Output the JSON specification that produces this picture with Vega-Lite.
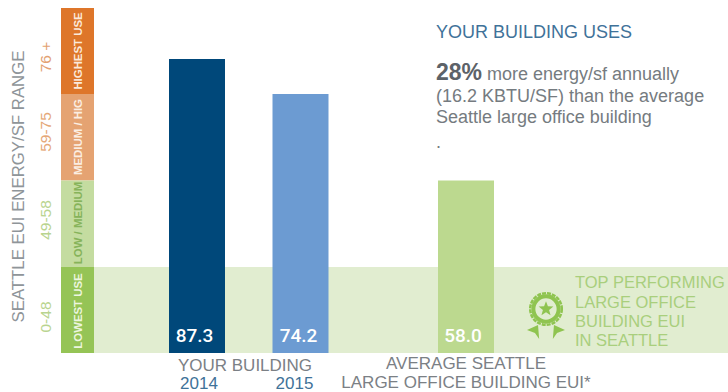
{
  "$schema": "https://vega.github.io/schema/vega-lite/v6.json",
  "width": 728,
  "height": 392,
  "autosize": {"type": "fit", "contains": "padding"},
  "padding": 0,
  "background": "white",
  "config": {"view": {"stroke": null}, "text": {"font": "Liberation Sans"}},
  "datasets": {
    "zones": [
      {"zone": "HIGHEST USE", "eui": "76 +", "rank": 1, "lo": 74.2, "hi": 112},
      {"zone": "MEDIUM / HIG", "eui": "59-75", "rank": 2, "lo": 58, "hi": 74.2},
      {"zone": "LOW / MEDIUM", "eui": "49-58", "rank": 3, "lo": 48, "hi": 58},
      {"zone": "LOWEST USE", "eui": "0-48", "rank": 4, "lo": 0, "hi": 48}
    ],
    "buildings": [
      {"slot": 1, "name": "2014", "eui": 87.3},
      {"slot": 2, "name": "2015", "eui": 74.2},
      {"slot": 3, "name": "Average", "eui": 58.0}
    ],
    "headline": [
      {"text": "YOUR BUILDING USES", "col": 1, "line": 1}
    ],
    "commentary": [
      {"text": "more energy/sf annually", "col": 2, "line": 2},
      {"text": "(16.2 KBTU/SF) than the average", "col": 1, "line": 3},
      {"text": "Seattle large office building", "col": 1, "line": 4},
      {"text": ".", "col": 1, "line": 5}
    ],
    "award": [
      {"text": "TOP PERFORMING", "col": 3, "line": 6},
      {"text": "LARGE OFFICE", "col": 3, "line": 7},
      {"text": "BUILDING EUI", "col": 3, "line": 8},
      {"text": "IN SEATTLE", "col": 3, "line": 9}
    ],
    "captions": [
      {"text": "YOUR BUILDING", "col": 1, "line": 1, "tone": "grey"},
      {"text": "2014", "col": 2, "line": 2, "tone": "blue"},
      {"text": "2015", "col": 3, "line": 2, "tone": "blue"},
      {"text": "AVERAGE SEATTLE", "col": 4, "line": 3, "tone": "grey"},
      {"text": "LARGE OFFICE BUILDING EUI*", "col": 4, "line": 4, "tone": "grey"}
    ]
  },
  "resolve": {"scale": {"x": "independent", "y": "independent", "color": "independent"}},
  "layer": [
    {
      "description": "Pale band across the plot for the lowest-use range",
      "data": {"values": [{"lo": 0, "hi": 48}]},
      "mark": {"type": "rect", "color": "#e1edd0"},
      "encoding": {
        "x": {"datum": 0, "type": "quantitative", "axis": null, "scale": {"domain": [0, 1], "range": [94, 728]}},
        "x2": {"datum": 1},
        "y": {"field": "lo", "type": "quantitative", "axis": null, "scale": {"domain": [0, 48, 58, 74.2, 87.3, 112], "range": [353, 267, 180.5, 94, 59, 8], "nice": false, "zero": false}},
        "y2": {"field": "hi"}
      }
    },
    {
      "description": "Colour-coded EUI strip at the left",
      "data": {"name": "zones"},
      "mark": {"type": "rect"},
      "encoding": {
        "x": {"datum": 0, "type": "quantitative", "axis": null, "scale": {"domain": [0, 1], "range": [61, 94]}},
        "x2": {"datum": 1},
        "y": {"field": "lo", "type": "quantitative", "axis": null, "scale": {"domain": [0, 48, 58, 74.2, 87.3, 112], "range": [353, 267, 180.5, 94, 59, 8], "nice": false, "zero": false}},
        "y2": {"field": "hi"},
        "color": {"field": "zone", "type": "nominal", "legend": null, "scale": {"domain": ["HIGHEST USE", "MEDIUM / HIG", "LOW / MEDIUM", "LOWEST USE"], "range": ["#de762a", "#e5a372", "#c4dca0", "#95c456"]}}
      }
    },
    {
      "description": "Building EUI bars",
      "data": {"name": "buildings"},
      "mark": {"type": "bar", "width": 56, "orient": "vertical"},
      "encoding": {
        "x": {"field": "slot", "type": "quantitative", "axis": null, "scale": {"domain": [1, 2, 3], "range": [197, 300.5, 466], "nice": false, "zero": false, "padding": 0}},
        "y": {"field": "eui", "type": "quantitative", "axis": null, "stack": null, "scale": {"domain": [0, 48, 58, 74.2, 87.3, 112], "range": [353, 267, 180.5, 94, 59, 8], "nice": false, "zero": false}},
        "color": {"field": "name", "type": "nominal", "legend": null, "scale": {"domain": ["2014", "2015", "Average"], "range": ["#00487a", "#6c9bd2", "#bcd98f"]}}
      }
    },
    {
      "description": "Value printed at the foot of each bar",
      "data": {"name": "buildings"},
      "mark": {"type": "text", "font": "Roboto", "color": "white", "fontSize": 19, "fontWeight": 500, "baseline": "alphabetic", "dy": -11},
      "encoding": {
        "x": {"field": "slot", "type": "quantitative", "axis": null, "scale": {"domain": [1, 2, 3], "range": [194.5, 298.5, 463], "nice": false, "zero": false}},
        "y": {"datum": 0, "type": "quantitative", "axis": null, "scale": {"domain": [0, 48, 58, 74.2, 87.3, 112], "range": [353, 267, 180.5, 94, 59, 8], "nice": false, "zero": false}},
        "text": {"field": "eui", "type": "quantitative", "format": ".1f"}
      }
    },
    {
      "description": "Use level written inside the strip",
      "data": {"name": "zones"},
      "mark": {"type": "text", "angle": 270, "fontSize": 11.4, "fontWeight": "bold", "align": "center", "baseline": "middle"},
      "encoding": {
        "x": {"datum": 0, "type": "quantitative", "axis": null, "scale": {"domain": [0, 1], "range": [79, 100]}},
        "y": {"field": "rank", "type": "quantitative", "axis": null, "scale": {"domain": [1, 2, 3, 4], "range": [51, 137, 223, 311], "nice": false, "zero": false}},
        "text": {"field": "zone"},
        "color": {"field": "zone", "type": "nominal", "legend": null, "scale": {"domain": ["HIGHEST USE", "MEDIUM / HIG", "LOW / MEDIUM", "LOWEST USE"], "range": ["#fbe9da", "#fbeee2", "#86b35a", "#ecf5df"]}}
      }
    },
    {
      "description": "EUI range beside the strip",
      "data": {"name": "zones"},
      "mark": {"type": "text", "angle": 270, "fontSize": 15.5, "align": "center", "baseline": "middle"},
      "encoding": {
        "x": {"datum": 0, "type": "quantitative", "axis": null, "scale": {"domain": [0, 1], "range": [46, 60]}},
        "y": {"field": "rank", "type": "quantitative", "axis": null, "scale": {"domain": [1, 2, 3, 4], "range": [57, 132, 220, 317], "nice": false, "zero": false}},
        "text": {"field": "eui"},
        "color": {"field": "zone", "type": "nominal", "legend": null, "scale": {"domain": ["HIGHEST USE", "MEDIUM / HIG", "LOW / MEDIUM", "LOWEST USE"], "range": ["#e3a273", "#e5a878", "#b9d48f", "#b9d48f"]}}
      }
    },
    {
      "description": "Rotated title of the range column",
      "data": {"values": [{"text": "SEATTLE EUI ENERGY/SF RANGE"}]},
      "mark": {"type": "text", "angle": 270, "fontSize": 16.8, "color": "#8f9599", "align": "center", "baseline": "middle"},
      "encoding": {
        "x": {"datum": 0, "type": "quantitative", "axis": null, "scale": {"domain": [0, 1], "range": [19, 40]}},
        "y": {"datum": 0, "type": "quantitative", "axis": null, "scale": {"domain": [0, 1], "range": [186.5, 300]}},
        "text": {"field": "text"}
      }
    },
    {
      "description": "Commentary headline",
      "data": {"name": "headline"},
      "mark": {"type": "text", "align": "left", "baseline": "alphabetic", "fontSize": 18, "color": "#3f7299"},
      "encoding": {
        "x": {"field": "col", "type": "quantitative", "axis": null, "scale": {"domain": [1, 2, 3], "range": [436, 487, 575], "nice": false, "zero": false}},
        "y": {"field": "line", "type": "quantitative", "axis": null, "scale": {"domain": [1, 2, 3, 4, 5, 6, 7, 8, 9], "range": [38, 80, 102, 123, 148, 288, 308, 327, 346], "nice": false, "zero": false}},
        "text": {"field": "text"}
      }
    },
    {
      "description": "Commentary body",
      "data": {"name": "commentary"},
      "mark": {"type": "text", "align": "left", "baseline": "alphabetic", "fontSize": 18, "color": "#757b80"},
      "encoding": {
        "x": {"field": "col", "type": "quantitative", "axis": null, "scale": {"domain": [1, 2, 3], "range": [436, 487, 575], "nice": false, "zero": false}},
        "y": {"field": "line", "type": "quantitative", "axis": null, "scale": {"domain": [1, 2, 3, 4, 5, 6, 7, 8, 9], "range": [38, 80, 102, 123, 148, 288, 308, 327, 346], "nice": false, "zero": false}},
        "text": {"field": "text"}
      }
    },
    {
      "description": "Top-performing note beside the badge",
      "data": {"name": "award"},
      "mark": {"type": "text", "align": "left", "baseline": "alphabetic", "fontSize": 16.5, "color": "#a9cf7d"},
      "encoding": {
        "x": {"field": "col", "type": "quantitative", "axis": null, "scale": {"domain": [1, 2, 3], "range": [436, 487, 575], "nice": false, "zero": false}},
        "y": {"field": "line", "type": "quantitative", "axis": null, "scale": {"domain": [1, 2, 3, 4, 5, 6, 7, 8, 9], "range": [38, 80, 102, 123, 148, 288, 308, 327, 346], "nice": false, "zero": false}},
        "text": {"field": "text"}
      }
    },
    {
      "description": "Bold lead figure of the commentary",
      "data": {"values": [{"text": "28%"}]},
      "mark": {"type": "text", "align": "left", "baseline": "alphabetic", "fontSize": 23, "fontWeight": "bold", "color": "#5c6268"},
      "encoding": {
        "x": {"datum": 0, "type": "quantitative", "axis": null, "scale": {"domain": [0, 1], "range": [436, 500]}},
        "y": {"datum": 0, "type": "quantitative", "axis": null, "scale": {"domain": [0, 1], "range": [80, 100]}},
        "text": {"field": "text"}
      }
    },
    {
      "description": "Captions under the bars",
      "data": {"name": "captions"},
      "mark": {"type": "text", "align": "center", "baseline": "alphabetic", "fontSize": 17},
      "encoding": {
        "x": {"field": "col", "type": "quantitative", "axis": null, "scale": {"domain": [1, 2, 3, 4], "range": [245, 199, 294.5, 466], "nice": false, "zero": false}},
        "y": {"field": "line", "type": "quantitative", "axis": null, "scale": {"domain": [1, 2, 3, 4], "range": [371, 388.5, 369, 388], "nice": false, "zero": false}},
        "text": {"field": "text"},
        "color": {"field": "tone", "type": "nominal", "legend": null, "scale": {"domain": ["grey", "blue"], "range": ["#7b8085", "#3f7299"]}}
      }
    },
    {
      "description": "Award badge: scalloped edge",
      "data": {"values": [{"part": "edge"}]},
      "mark": {"type": "point", "shape": "circle", "filled": false, "size": 1000, "stroke": "#8fc450", "strokeWidth": 2.5, "strokeDash": [4, 1], "opacity": 1},
      "encoding": {
        "x": {"datum": 0, "type": "quantitative", "axis": null, "scale": {"domain": [0, 1], "range": [546, 600]}},
        "y": {"datum": 0, "type": "quantitative", "axis": null, "scale": {"domain": [0, 1], "range": [309, 350]}}
      }
    },
    {
      "description": "Award badge: ring",
      "data": {"values": [{"part": "ring"}]},
      "mark": {"type": "point", "shape": "circle", "filled": false, "size": 640, "stroke": "#8fc450", "strokeWidth": 4, "opacity": 1},
      "encoding": {
        "x": {"datum": 0, "type": "quantitative", "axis": null, "scale": {"domain": [0, 1], "range": [546, 600]}},
        "y": {"datum": 0, "type": "quantitative", "axis": null, "scale": {"domain": [0, 1], "range": [309, 350]}}
      }
    },
    {
      "description": "Award badge: five-pointed star",
      "data": {"values": [{"part": "star"}]},
      "mark": {"type": "point", "shape": "M0 -1L0.247 -0.34L0.951 -0.309L0.4 0.13L0.588 0.809L0 0.42L-0.588 0.809L-0.4 0.13L-0.951 -0.309L-0.247 -0.34Z", "filled": true, "size": 240, "fill": "#8fc450", "opacity": 1},
      "encoding": {
        "x": {"datum": 0, "type": "quantitative", "axis": null, "scale": {"domain": [0, 1], "range": [546, 600]}},
        "y": {"datum": 0, "type": "quantitative", "axis": null, "scale": {"domain": [0, 1], "range": [309, 350]}}
      }
    },
    {
      "description": "Award badge: ribbon tails",
      "data": {"values": [{"part": "ribbon"}]},
      "mark": {"type": "point", "shape": "M-1 -0.05L-0.42 -0.32L-0.36 0.42L-0.58 0.1ZM1 -0.05L0.42 -0.32L0.36 0.42L0.58 0.1Z", "filled": true, "size": 1444, "fill": "#8fc450", "opacity": 1},
      "encoding": {
        "x": {"datum": 0, "type": "quantitative", "axis": null, "scale": {"domain": [0, 1], "range": [546, 600]}},
        "y": {"datum": 0, "type": "quantitative", "axis": null, "scale": {"domain": [0, 1], "range": [331, 350]}}
      }
    }
  ]
}
